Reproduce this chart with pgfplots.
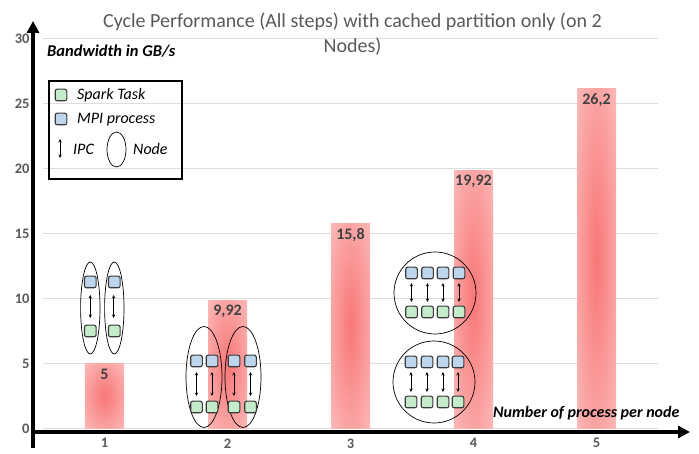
\documentclass[border=0pt]{standalone}
\usepackage{fontspec}
\setmainfont{Carlito}
\usepackage{pgfplots}
\pgfplotsset{compat=1.18}
\usetikzlibrary{arrows.meta}

\definecolor{titlegray}{HTML}{595959}
\definecolor{labgray}{HTML}{404040}
\definecolor{gridgray}{HTML}{DDDDDD}
\definecolor{barin}{RGB}{248,118,118}
\definecolor{barout}{RGB}{253,212,212}
\definecolor{mpiblue}{RGB}{189,214,238}
\definecolor{sparkgreen}{RGB}{196,236,202}
\definecolor{boxedge}{HTML}{3A3A3A}
\pgfdeclareradialshading{barglow}{\pgfpoint{0bp}{0bp}}{color(0bp)=(barin); color(50bp)=(barout)}

\newcommand{\sq}[3]{\draw[fill=#3, draw=boxedge, line width=1.1pt, rounded corners=2pt] (#1-5.8,#2-5.8) rectangle (#1+5.8,#2+5.8);}
\newcommand{\ipc}[3]{\draw[{Stealth[length=3.5pt,width=3.2pt]}-{Stealth[length=3.5pt,width=3.2pt]}, line width=0.7pt] (#1,#2) -- (#1,#3);}

\begin{document}
\begin{tikzpicture}[x=1pt,y=1pt]
\useasboundingbox (0,0) rectangle (699,454);
\begin{axis}[
  at={(43pt,25pt)}, anchor=south west,
  scale only axis, width=615pt, height=390pt,
  xmin=0.5, xmax=5.5, ymin=0, ymax=30,
  axis line style={draw=none},
  tick style={draw=none},
  xtick={1,2,3,4,5}, ytick={0,5,...,30},
  ymajorgrids, grid style={gridgray, line width=1pt},
  ticklabel style={font=\fontsize{14.5}{14.5}\selectfont\bfseries, text=titlegray},
  /pgf/number format/assume math mode=true,
  yticklabel style={xshift=-10pt},
  xticklabel style={yshift=-6pt},
  clip=false,
]
\addplot[ybar, bar width=39pt, bar shift=0pt, draw=none, shade, shading=barglow] coordinates {(1,5)};
\addplot[ybar, bar width=39pt, bar shift=0pt, draw=none, shade, shading=barglow] coordinates {(2,9.92)};
\addplot[ybar, bar width=39pt, bar shift=0pt, draw=none, shade, shading=barglow] coordinates {(3,15.8)};
\addplot[ybar, bar width=39pt, bar shift=0pt, draw=none, shade, shading=barglow] coordinates {(4,19.92)};
\addplot[ybar, bar width=39pt, bar shift=0pt, draw=none, shade, shading=barglow] coordinates {(5,26.2)};
\begin{scope}[every node/.style={anchor=north, yshift=-4pt, inner sep=1pt, font=\fontsize{16}{16}\selectfont\bfseries, text=labgray}]
\node at (axis cs:1,5) {5};
\node at (axis cs:2,9.92) {9,92};
\node at (axis cs:3,15.8) {15,8};
\node at (axis cs:4,19.92) {19,92};
\node at (axis cs:5,26.2) {26,2};
\end{scope}
\end{axis}

% title
\node[anchor=base, font=\fontsize{20}{24}\selectfont, text=titlegray, inner sep=0pt] at (352.5,426) {Cycle Performance (All steps) with cached partition only (on 2};
\node[anchor=base, font=\fontsize{20}{24}\selectfont, text=titlegray, inner sep=0pt] at (352.5,401) {Nodes)};

% axis arrows
\draw[line width=4pt, -{Triangle[length=12pt,width=12pt]}] (33,6) -- (33,433);
\draw[line width=4pt, -{Triangle[length=12pt,width=12pt]}] (31,22) -- (690,22);

% axis labels
\node[anchor=base west, inner sep=0pt, font=\fontsize{16.5}{16.5}\selectfont\bfseries\itshape] at (47,397) {Bandwidth in GB/s};
\node[anchor=base west, inner sep=0pt, font=\fontsize{16}{16}\selectfont\bfseries\itshape] at (493,36) {Number of process per node};

\begin{scope}[shift={(0,454)}, yscale=-1]
% legend
\draw[line width=1.2pt] (49,81) rectangle (182,179);
\sq{61}{95}{sparkgreen}
\sq{61}{119}{mpiblue}
\ipc{60}{139}{158}
\draw[line width=0.7pt] (116.5,149.5) ellipse [x radius=9.5, y radius=17.5];
\node[anchor=base west, inner sep=0pt, font=\fontsize{16}{16}\selectfont\itshape] at (77,100) {Spark Task};
\node[anchor=base west, inner sep=0pt, font=\fontsize{16}{16}\selectfont\itshape] at (77,124) {MPI process};
\node[anchor=base west, inner sep=0pt, font=\fontsize{16}{16}\selectfont\itshape] at (73,155) {IPC};
\node[anchor=base west, inner sep=0pt, font=\fontsize{16}{16}\selectfont\itshape] at (133,155) {Node};

% diagram at 1
\draw[line width=0.7pt] (90.3,308) ellipse [x radius=9.7, y radius=46];
\draw[line width=0.7pt] (114.3,308) ellipse [x radius=9.7, y radius=46];
\sq{90.3}{282}{mpiblue}\sq{114.3}{282}{mpiblue}
\sq{90.3}{331}{sparkgreen}\sq{114.3}{331}{sparkgreen}
\ipc{90.3}{295}{318}\ipc{113.6}{295}{318}

% diagram at 2
\draw[line width=0.7pt] (204,377) ellipse [x radius=18, y radius=50.5];
\draw[line width=0.7pt] (243,377) ellipse [x radius=18, y radius=50.5];
\foreach \c in {196.5,212,234,250.5}{
  \sq{\c}{361}{mpiblue}
  \sq{\c}{407}{sparkgreen}
  \ipc{\c}{372}{396}
}

% diagram at 4
\draw[line width=0.7pt] (435,293) circle [radius=41];
\draw[line width=0.7pt] (434,382) circle [radius=41];
\foreach \c in {411.5,427.5,443,459}{
  \sq{\c}{273}{mpiblue}
  \sq{\c}{312}{sparkgreen}
  \ipc{\c}{283}{302}
}
\foreach \c in {411,427,443,458}{
  \sq{\c}{362}{mpiblue}
  \sq{\c}{402}{sparkgreen}
  \ipc{\c}{372}{392}
}
\end{scope}
\end{tikzpicture}
\end{document}
